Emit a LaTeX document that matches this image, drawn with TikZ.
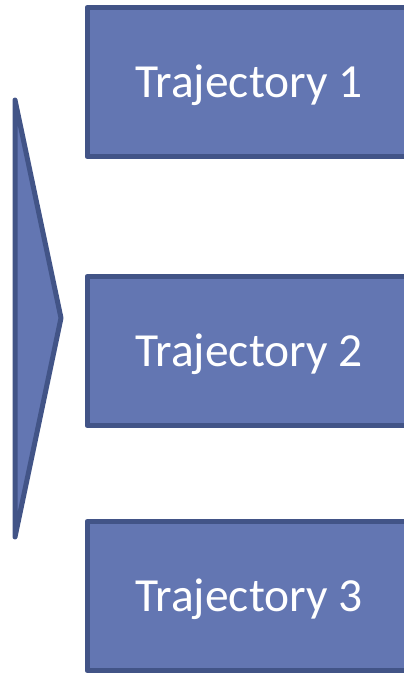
\documentclass[tikz,border=0pt]{standalone}
\usepackage{fontspec}
\setmainfont{Carlito}
\definecolor{trajfill}{RGB}{99,118,178}
\definecolor{trajedge}{RGB}{66,84,135}
\begin{document}
\begin{tikzpicture}[x=1pt,y=-1pt,
  shapefill/.style={fill=trajfill, draw=trajedge, line width=5pt, line join=round},
  trajbox/.style={shapefill, rectangle, minimum width=324pt, minimum height=149pt,
    inner sep=0pt, font=\fontsize{47.5}{52}\selectfont, text=white,
    text height=30.5pt, text depth=0pt},
]
\useasboundingbox (0,0) rectangle (404,673);
% stage marker pointing at the trajectories
\draw[shapefill] (15,100) -- (61,318) -- (15,537) -- cycle;
% trajectory boxes (right side runs past the frame)
\node[trajbox] (t1) at (249,82) {Trajectory 1};
\node[trajbox] (t2) at (249,351) {Trajectory 2};
\node[trajbox] (t3) at (249,596) {Trajectory 3};
\end{tikzpicture}
\end{document}
